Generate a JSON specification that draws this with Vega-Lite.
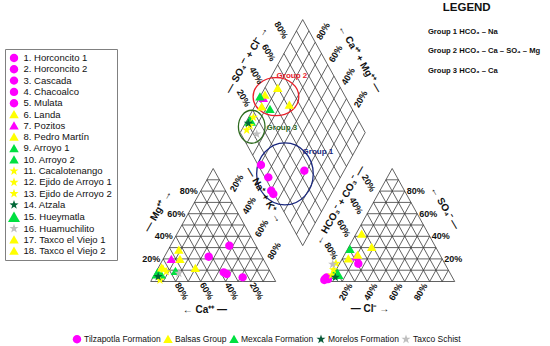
{
"$schema": "https://vega.github.io/schema/vega-lite/v6.json",
"width": 550, "height": 346, "autosize": {"type": "none"}, "padding": 0, "background": "white",
"config": {"view": {"stroke": null}, "font": "Liberation Sans"},
"datasets": {
"grid": [
{"x":0,"y":0,"x2":100,"y2":0},{"x":0,"y":0,"x2":50,"y2":86.6},{"x":100,"y":0,"x2":50,"y2":86.6},
{"x":5,"y":8.66,"x2":95,"y2":8.66},{"x":10,"y":17.32,"x2":90,"y2":17.32},{"x":15,"y":25.98,"x2":85,"y2":25.98},{"x":20,"y":34.64,"x2":80,"y2":34.64},{"x":25,"y":43.3,"x2":75,"y2":43.3},{"x":30,"y":51.96,"x2":70,"y2":51.96},{"x":35,"y":60.62,"x2":65,"y2":60.62},{"x":40,"y":69.28,"x2":60,"y2":69.28},{"x":45,"y":77.94,"x2":55,"y2":77.94},
{"x":10,"y":0,"x2":5,"y2":8.66},{"x":20,"y":0,"x2":10,"y2":17.32},{"x":30,"y":0,"x2":15,"y2":25.98},{"x":40,"y":0,"x2":20,"y2":34.64},{"x":50,"y":0,"x2":25,"y2":43.3},{"x":60,"y":0,"x2":30,"y2":51.96},{"x":70,"y":0,"x2":35,"y2":60.62},{"x":80,"y":0,"x2":40,"y2":69.28},{"x":90,"y":0,"x2":45,"y2":77.94},
{"x":10,"y":0,"x2":55,"y2":77.94},{"x":20,"y":0,"x2":60,"y2":69.28},{"x":30,"y":0,"x2":65,"y2":60.62},{"x":40,"y":0,"x2":70,"y2":51.96},{"x":50,"y":0,"x2":75,"y2":43.3},{"x":60,"y":0,"x2":80,"y2":34.64},{"x":70,"y":0,"x2":85,"y2":25.98},{"x":80,"y":0,"x2":90,"y2":17.32},{"x":90,"y":0,"x2":95,"y2":8.66},
{"x":143.2,"y":0,"x2":243.2,"y2":0},{"x":143.2,"y":0,"x2":193.2,"y2":86.6},{"x":243.2,"y":0,"x2":193.2,"y2":86.6},
{"x":148.2,"y":8.66,"x2":238.2,"y2":8.66},{"x":153.2,"y":17.32,"x2":233.2,"y2":17.32},{"x":158.2,"y":25.98,"x2":228.2,"y2":25.98},{"x":163.2,"y":34.64,"x2":223.2,"y2":34.64},{"x":168.2,"y":43.3,"x2":218.2,"y2":43.3},{"x":173.2,"y":51.96,"x2":213.2,"y2":51.96},{"x":178.2,"y":60.62,"x2":208.2,"y2":60.62},{"x":183.2,"y":69.28,"x2":203.2,"y2":69.28},{"x":188.2,"y":77.94,"x2":198.2,"y2":77.94},
{"x":153.2,"y":0,"x2":148.2,"y2":8.66},{"x":163.2,"y":0,"x2":153.2,"y2":17.32},{"x":173.2,"y":0,"x2":158.2,"y2":25.98},{"x":183.2,"y":0,"x2":163.2,"y2":34.64},{"x":193.2,"y":0,"x2":168.2,"y2":43.3},{"x":203.2,"y":0,"x2":173.2,"y2":51.96},{"x":213.2,"y":0,"x2":178.2,"y2":60.62},{"x":223.2,"y":0,"x2":183.2,"y2":69.28},{"x":233.2,"y":0,"x2":188.2,"y2":77.94},
{"x":153.2,"y":0,"x2":198.2,"y2":77.94},{"x":163.2,"y":0,"x2":203.2,"y2":69.28},{"x":173.2,"y":0,"x2":208.2,"y2":60.62},{"x":183.2,"y":0,"x2":213.2,"y2":51.96},{"x":193.2,"y":0,"x2":218.2,"y2":43.3},{"x":203.2,"y":0,"x2":223.2,"y2":34.64},{"x":213.2,"y":0,"x2":228.2,"y2":25.98},{"x":223.2,"y":0,"x2":233.2,"y2":17.32},{"x":233.2,"y":0,"x2":238.2,"y2":8.66},
{"x":121.6,"y":27.5,"x2":171.6,"y2":114.1},{"x":116.6,"y":36.16,"x2":166.6,"y2":122.76},{"x":111.6,"y":44.82,"x2":161.6,"y2":131.42},{"x":106.6,"y":53.48,"x2":156.6,"y2":140.08},{"x":101.6,"y":62.14,"x2":151.6,"y2":148.74},{"x":96.6,"y":70.8,"x2":146.6,"y2":157.4},{"x":91.6,"y":79.46,"x2":141.6,"y2":166.06},{"x":86.6,"y":88.12,"x2":136.6,"y2":174.72},{"x":81.6,"y":96.78,"x2":131.6,"y2":183.38},{"x":76.6,"y":105.44,"x2":126.6,"y2":192.04},{"x":71.6,"y":114.1,"x2":121.6,"y2":200.7},
{"x":121.6,"y":27.5,"x2":71.6,"y2":114.1},{"x":126.6,"y":36.16,"x2":76.6,"y2":122.76},{"x":131.6,"y":44.82,"x2":81.6,"y2":131.42},{"x":136.6,"y":53.48,"x2":86.6,"y2":140.08},{"x":141.6,"y":62.14,"x2":91.6,"y2":148.74},{"x":146.6,"y":70.8,"x2":96.6,"y2":157.4},{"x":151.6,"y":79.46,"x2":101.6,"y2":166.06},{"x":156.6,"y":88.12,"x2":106.6,"y2":174.72},{"x":161.6,"y":96.78,"x2":111.6,"y2":183.38},{"x":166.6,"y":105.44,"x2":116.6,"y2":192.04},{"x":171.6,"y":114.1,"x2":121.6,"y2":200.7}
],
"ellipses": [
{"g":"Group 1","x":107.4,"y":82.4},{"g":"Group 2","x":100.2,"y":141.6},{"g":"Group 3","x":80.8,"y":118.6}
],
"samples": [
{"s":"15. Hueymatla","f":"Mexcala Formation","p":"C","x":5.5,"y":6.0},
{"s":"15. Hueymatla","f":"Mexcala Formation","p":"A","x":149.5,"y":5.5},
{"s":"15. Hueymatla","f":"Mexcala Formation","p":"D","x":79.5,"y":123.0},
{"s":"1. Horconcito 1","f":"Tilzapotla Formation","p":"C","x":62.9,"y":27.4},
{"s":"2. Horconcito 2","f":"Tilzapotla Formation","p":"C","x":46.4,"y":19.0},
{"s":"3. Cascada","f":"Tilzapotla Formation","p":"C","x":58.4,"y":7.0},
{"s":"4. Chacoalco","f":"Tilzapotla Formation","p":"C","x":60.8,"y":5.7},
{"s":"5. Mulata","f":"Tilzapotla Formation","p":"C","x":73.6,"y":3.2},
{"s":"6. Landa","f":"Balsas Group","p":"C","x":22.5,"y":24.1},
{"s":"7. Pozitos","f":"Tilzapotla Formation","p":"C","x":16.5,"y":17.1},
{"s":"8. Pedro Martín","f":"Balsas Group","p":"C","x":23.4,"y":17.0},
{"s":"9. Arroyo 1","f":"Mexcala Formation","p":"C","x":19.8,"y":7.8},
{"s":"10. Arroyo 2","f":"Mexcala Formation","p":"C","x":8.5,"y":5.0},
{"s":"11. Cacalotenango","f":"Balsas Group","p":"C","x":10.1,"y":9.3},
{"s":"12. Ejido de Arroyo 1","f":"Balsas Group","p":"C","x":7.4,"y":1.1},
{"s":"13. Ejido de Arroyo 2","f":"Balsas Group","p":"C","x":12.5,"y":7.5},
{"s":"14. Atzala","f":"Morelos Formation","p":"C","x":6.0,"y":3.8},
{"s":"16. Huamuchilito","f":"Taxco Schist","p":"C","x":22.5,"y":6.3},
{"s":"17. Taxco el Viejo 1","f":"Balsas Group","p":"C","x":35.7,"y":10.1},
{"s":"18. Taxco el Viejo 2","f":"Balsas Group","p":"C","x":8.8,"y":10.5},
{"s":"1. Horconcito 1","f":"Tilzapotla Formation","p":"A","x":166.1,"y":13.6},
{"s":"2. Horconcito 2","f":"Tilzapotla Formation","p":"A","x":138.9,"y":1.1},
{"s":"3. Cascada","f":"Tilzapotla Formation","p":"A","x":140.8,"y":3.2},
{"s":"4. Chacoalco","f":"Tilzapotla Formation","p":"A","x":139.6,"y":2.2},
{"s":"5. Mulata","f":"Tilzapotla Formation","p":"A","x":141.8,"y":1.8},
{"s":"6. Landa","f":"Balsas Group","p":"A","x":168.8,"y":36.4},
{"s":"7. Pozitos","f":"Tilzapotla Formation","p":"A","x":164.5,"y":19.0},
{"s":"8. Pedro Martín","f":"Balsas Group","p":"A","x":176.8,"y":26.2},
{"s":"9. Arroyo 1","f":"Mexcala Formation","p":"A","x":159.4,"y":24.7},
{"s":"10. Arroyo 2","f":"Mexcala Formation","p":"A","x":147.0,"y":7.0},
{"s":"11. Cacalotenango","f":"Balsas Group","p":"A","x":148.2,"y":13.9},
{"s":"12. Ejido de Arroyo 1","f":"Balsas Group","p":"A","x":144.8,"y":5.0},
{"s":"13. Ejido de Arroyo 2","f":"Balsas Group","p":"A","x":146.2,"y":9.0},
{"s":"14. Atzala","f":"Morelos Formation","p":"A","x":147.7,"y":3.2},
{"s":"16. Huamuchilito","f":"Taxco Schist","p":"A","x":145.6,"y":13.2},
{"s":"17. Taxco el Viejo 1","f":"Balsas Group","p":"A","x":158.1,"y":17.5},
{"s":"18. Taxco el Viejo 2","f":"Balsas Group","p":"A","x":165.6,"y":20.3},
{"s":"1. Horconcito 1","f":"Tilzapotla Formation","p":"D","x":88.2,"y":89.3},
{"s":"2. Horconcito 2","f":"Tilzapotla Formation","p":"D","x":122.9,"y":84.9},
{"s":"3. Cascada","f":"Tilzapotla Formation","p":"D","x":94.1,"y":79.8},
{"s":"4. Chacoalco","f":"Tilzapotla Formation","p":"D","x":96.4,"y":69.6},
{"s":"5. Mulata","f":"Tilzapotla Formation","p":"D","x":98.1,"y":67.0},
{"s":"6. Landa","f":"Balsas Group","p":"D","x":101.6,"y":148.0},
{"s":"7. Pozitos","f":"Tilzapotla Formation","p":"D","x":90.1,"y":140.4},
{"s":"8. Pedro Martín","f":"Balsas Group","p":"D","x":91.4,"y":142.9},
{"s":"9. Arroyo 1","f":"Mexcala Formation","p":"D","x":87.4,"y":141.6},
{"s":"10. Arroyo 2","f":"Mexcala Formation","p":"D","x":95.4,"y":131.9},
{"s":"11. Cacalotenango","f":"Balsas Group","p":"D","x":82.1,"y":125.8},
{"s":"12. Ejido de Arroyo 1","f":"Balsas Group","p":"D","x":76.8,"y":116.1},
{"s":"13. Ejido de Arroyo 2","f":"Balsas Group","p":"D","x":79.5,"y":119.5},
{"s":"14. Atzala","f":"Morelos Formation","p":"D","x":78.1,"y":121.2},
{"s":"16. Huamuchilito","f":"Taxco Schist","p":"D","x":84.8,"y":113.0},
{"s":"17. Taxco el Viejo 1","f":"Balsas Group","p":"D","x":88.8,"y":133.9},
{"s":"18. Taxco el Viejo 2","f":"Balsas Group","p":"D","x":110.9,"y":135.2}
],
"labels": [
{"k":"mg","t":"80%","x":40,"y":69.28},{"k":"mg","t":"60%","x":30,"y":51.96},{"k":"mg","t":"40%","x":20,"y":34.64},{"k":"mg","t":"20%","x":10,"y":17.32},
{"k":"so","t":"80%","x":203.2,"y":69.28},{"k":"so","t":"60%","x":213.2,"y":51.96},{"k":"so","t":"40%","x":223.2,"y":34.64},{"k":"so","t":"20%","x":233.2,"y":17.32},
{"k":"p","t":"80%","x":24.8,"y":-7.3},{"k":"p","t":"60%","x":44.8,"y":-7.3},{"k":"p","t":"40%","x":64.8,"y":-7.3},{"k":"p","t":"20%","x":84.8,"y":-7.3},
{"k":"p","t":"20%","x":174.4,"y":75.4},{"k":"p","t":"40%","x":164.4,"y":58.1},{"k":"p","t":"60%","x":154.4,"y":40.7},{"k":"p","t":"80%","x":144.4,"y":23.4},
{"k":"p","t":"20%","x":74.4,"y":140.6},{"k":"p","t":"40%","x":84.4,"y":157.9},{"k":"p","t":"60%","x":94.4,"y":175.3},{"k":"p","t":"80%","x":104.4,"y":192.6},
{"k":"n","t":"20%","x":156,"y":-8},{"k":"n","t":"40%","x":176,"y":-8},{"k":"n","t":"60%","x":196,"y":-8},{"k":"n","t":"80%","x":216,"y":-8},
{"k":"n","t":"20%","x":68.8,"y":75.4},{"k":"n","t":"40%","x":78.8,"y":58.1},{"k":"n","t":"60%","x":88.8,"y":40.7},{"k":"n","t":"80%","x":98.8,"y":23.4},
{"k":"n","t":"80%","x":138.0,"y":191.8},{"k":"n","t":"60%","x":148.0,"y":174.5},{"k":"n","t":"40%","x":158.0,"y":157.1},{"k":"n","t":"20%","x":168.0,"y":139.8},
{"k":"t0","t":"←   Ca⁺⁺   —","x":43.4,"y":-21.8},{"k":"t0","t":"—   Cl⁻   →","x":175.4,"y":-21.1},
{"k":"tp","t":"←   Ca⁺⁺ + Mg⁺⁺   —","x":167.4,"y":170.5},{"k":"tp","t":"←   SO₄⁻   —","x":235.4,"y":56.3},{"k":"tp","t":"—   Na⁺ + K⁺   →","x":90.6,"y":66.3},
{"k":"tn","t":"—   SO₄⁻⁻ + Cl⁻   →","x":76.8,"y":169.7},{"k":"tn","t":"—   Mg⁺⁺   →","x":5.8,"y":54.0},{"k":"tn","t":"←   HCO₃⁻ + CO₃⁻   —","x":151.4,"y":58.6},
{"k":"lg","t":"LEGEND","x":252.8,"y":209.6},
{"k":"gl","t":"Group 1  HCO₃ – Na","x":221.8,"y":191.2},{"k":"gl","t":"Group 2  HCO₃ – Ca – SO₄ – Mg","x":221.8,"y":176.6},{"k":"gl","t":"Group 3 HCO₃ – Ca","x":221.8,"y":161.3},
{"k":"g1","t":"Group 1","x":133.8,"y":99.2},{"k":"g2","t":"Group 2","x":113.0,"y":157.5},{"k":"g3","t":"Group 3","x":105.0,"y":117.6}
]
},
"encoding": {
"x": {"field": "x", "type": "quantitative", "scale": {"domain": [-120.56, 319.44], "nice": false, "zero": false}, "axis": null},
"y": {"field": "y", "type": "quantitative", "scale": {"domain": [-49.42, 215.71], "nice": false, "zero": false}, "axis": null}
},
"resolve": {"scale": {"color": "independent", "shape": "independent"}},
"layer": [
{"data": {"name": "grid"}, "mark": {"type": "rule", "color": "#3a3a3a", "strokeWidth": 0.8}, "encoding": {"x2": {"field": "x2"}, "y2": {"field": "y2"}}},
{"data": {"name": "ellipses"}, "mark": {"type": "point", "filled": false, "size": 100, "strokeWidth": 1.3, "opacity": 1},
 "encoding": {
  "shape": {"field": "g", "type": "nominal", "legend": null, "scale": {"domain": ["Group 1", "Group 2", "Group 3"], "range": ["M-5.66,0A5.66,6.2 0 1,0 5.66,0A5.66,6.2 0 1,0 -5.66,0Z", "M-4.57,0A4.57,3.8 0 1,0 4.57,0A4.57,3.8 0 1,0 -4.57,0Z", "M-2.66,0A2.66,3.3 0 1,0 2.66,0A2.66,3.3 0 1,0 -2.66,0Z"]}},
  "color": {"field": "g", "type": "nominal", "legend": null, "scale": {"domain": ["Group 1", "Group 2", "Group 3"], "range": ["#1c2a80", "#e8202a", "#2d6a1e"]}}
 }},
{"data": {"name": "samples"}, "mark": {"type": "point", "filled": true, "size": 100, "opacity": 1, "strokeWidth": 0},
 "encoding": {
  "color": {"field": "s", "type": "nominal",
   "scale": {"domain": ["1. Horconcito 1","2. Horconcito 2","3. Cascada","4. Chacoalco","5. Mulata","6. Landa","7. Pozitos","8. Pedro Martín","9. Arroyo 1","10. Arroyo 2","11. Cacalotenango","12. Ejido de Arroyo 1","13. Ejido de Arroyo 2","14. Atzala","15. Hueymatla","16. Huamuchilito","17. Taxco el Viejo 1","18. Taxco el Viejo 2"],
    "range": ["#ff00ff","#ff00ff","#ff00ff","#ff00ff","#ff00ff","#ffff00","#ff00ff","#ffff00","#00e040","#00e040","#ffff00","#ffff00","#ffff00","#006837","#00e040","#bfbfbf","#ffff00","#ffff00"]},
   "legend": {"title": null, "orient": "none", "legendX": 5, "legendY": 49, "direction": "vertical", "strokeColor": "#808080", "fillColor": "white", "padding": 4, "labelFontSize": 9.5, "labelColor": "#111", "labelOffset": 4.5, "rowPadding": 1.3, "symbolSize": 100, "symbolStrokeWidth": 0, "symbolOpacity": 1, "labelLimit": 200}},
  "shape": {"field": "s", "type": "nominal",
   "scale": {"domain": ["1. Horconcito 1","2. Horconcito 2","3. Cascada","4. Chacoalco","5. Mulata","6. Landa","7. Pozitos","8. Pedro Martín","9. Arroyo 1","10. Arroyo 2","11. Cacalotenango","12. Ejido de Arroyo 1","13. Ejido de Arroyo 2","14. Atzala","15. Hueymatla","16. Huamuchilito","17. Taxco el Viejo 1","18. Taxco el Viejo 2"],
    "range": ["M-0.84,0A0.84,0.84 0 1,0 0.84,0A0.84,0.84 0 1,0 -0.84,0Z","M-0.84,0A0.84,0.84 0 1,0 0.84,0A0.84,0.84 0 1,0 -0.84,0Z","M-0.84,0A0.84,0.84 0 1,0 0.84,0A0.84,0.84 0 1,0 -0.84,0Z","M-0.84,0A0.84,0.84 0 1,0 0.84,0A0.84,0.84 0 1,0 -0.84,0Z","M-0.84,0A0.84,0.84 0 1,0 0.84,0A0.84,0.84 0 1,0 -0.84,0Z",
     "M0,-0.9L0.95,0.75L-0.95,0.75Z","M0,-0.9L0.95,0.75L-0.95,0.75Z","M0,-0.9L0.95,0.75L-0.95,0.75Z","M0,-0.9L0.95,0.75L-0.95,0.75Z","M0,-0.9L0.95,0.75L-0.95,0.75Z",
     "M0,-0.96L0.223,-0.307L0.913,-0.297L0.361,0.117L0.564,0.777L0,0.38L-0.564,0.777L-0.361,0.117L-0.913,-0.297L-0.223,-0.307Z","M0,-0.96L0.223,-0.307L0.913,-0.297L0.361,0.117L0.564,0.777L0,0.38L-0.564,0.777L-0.361,0.117L-0.913,-0.297L-0.223,-0.307Z","M0,-0.96L0.223,-0.307L0.913,-0.297L0.361,0.117L0.564,0.777L0,0.38L-0.564,0.777L-0.361,0.117L-0.913,-0.297L-0.223,-0.307Z","M0,-0.96L0.223,-0.307L0.913,-0.297L0.361,0.117L0.564,0.777L0,0.38L-0.564,0.777L-0.361,0.117L-0.913,-0.297L-0.223,-0.307Z",
     "M0,-1.15L1.2,0.95L-1.2,0.95Z",
     "M0,-0.96L0.223,-0.307L0.913,-0.297L0.361,0.117L0.564,0.777L0,0.38L-0.564,0.777L-0.361,0.117L-0.913,-0.297L-0.223,-0.307Z",
     "M0,-0.9L0.95,0.75L-0.95,0.75Z","M0,-0.9L0.95,0.75L-0.95,0.75Z"]},
   "legend": {"title": null, "orient": "none", "legendX": 5, "legendY": 49, "direction": "vertical", "strokeColor": "#808080", "fillColor": "white", "padding": 4, "labelFontSize": 9.5, "labelColor": "#111", "labelOffset": 4.5, "rowPadding": 1.3, "symbolSize": 100, "symbolStrokeWidth": 0, "symbolOpacity": 1, "labelLimit": 200}}
 }},
{"data": {"name": "samples"}, "transform": [{"filter": "datum.p === 'D'"}], "mark": {"type": "point", "filled": true, "size": 100, "opacity": 0, "strokeWidth": 0},
 "encoding": {
  "color": {"field": "f", "type": "nominal",
   "scale": {"domain": ["Tilzapotla Formation", "Balsas Group", "Mexcala Formation", "Morelos Formation", "Taxco Schist"], "range": ["#ff00ff", "#ffff00", "#00e040", "#0b5a3a", "#bfbfbf"]},
   "legend": {"title": null, "orient": "none", "legendX": 72, "legendY": 334, "direction": "horizontal", "columns": 5, "columnPadding": 2, "padding": 0, "labelFontSize": 8.5, "labelColor": "#111", "labelOffset": 2, "symbolSize": 100, "symbolStrokeWidth": 0, "symbolOpacity": 1, "labelLimit": 200}},
  "shape": {"field": "f", "type": "nominal",
   "scale": {"domain": ["Tilzapotla Formation", "Balsas Group", "Mexcala Formation", "Morelos Formation", "Taxco Schist"], "range": ["M-0.84,0A0.84,0.84 0 1,0 0.84,0A0.84,0.84 0 1,0 -0.84,0Z", "M0,-0.9L0.95,0.75L-0.95,0.75Z", "M0,-0.9L0.95,0.75L-0.95,0.75Z", "M0,-0.96L0.223,-0.307L0.913,-0.297L0.361,0.117L0.564,0.777L0,0.38L-0.564,0.777L-0.361,0.117L-0.913,-0.297L-0.223,-0.307Z", "M0,-0.96L0.223,-0.307L0.913,-0.297L0.361,0.117L0.564,0.777L0,0.38L-0.564,0.777L-0.361,0.117L-0.913,-0.297L-0.223,-0.307Z"]},
   "legend": {"title": null, "orient": "none", "legendX": 72, "legendY": 334, "direction": "horizontal", "columns": 5, "columnPadding": 2, "padding": 0, "labelFontSize": 8.5, "labelColor": "#111", "labelOffset": 2, "symbolSize": 100, "symbolStrokeWidth": 0, "symbolOpacity": 1, "labelLimit": 200}}
 }},
{"data": {"name": "labels"}, "transform": [{"filter": "datum.k === 'mg'"}], "mark": {"type": "text", "align": "right", "baseline": "middle", "dx": -3, "fontSize": 9, "fontWeight": "bold", "color": "#111"}, "encoding": {"text": {"field": "t"}}},
{"data": {"name": "labels"}, "transform": [{"filter": "datum.k === 'so'"}], "mark": {"type": "text", "align": "left", "baseline": "middle", "dx": 2, "fontSize": 9, "fontWeight": "bold", "color": "#111"}, "encoding": {"text": {"field": "t"}}},
{"data": {"name": "labels"}, "transform": [{"filter": "datum.k === 'p'"}], "mark": {"type": "text", "align": "center", "baseline": "middle", "angle": 60, "fontSize": 9, "fontWeight": "bold", "color": "#111"}, "encoding": {"text": {"field": "t"}}},
{"data": {"name": "labels"}, "transform": [{"filter": "datum.k === 'n'"}], "mark": {"type": "text", "align": "center", "baseline": "middle", "angle": -60, "fontSize": 9, "fontWeight": "bold", "color": "#111"}, "encoding": {"text": {"field": "t"}}},
{"data": {"name": "labels"}, "transform": [{"filter": "datum.k === 't0'"}], "mark": {"type": "text", "align": "center", "baseline": "middle", "fontSize": 10, "fontWeight": "bold", "color": "#111"}, "encoding": {"text": {"field": "t"}}},
{"data": {"name": "labels"}, "transform": [{"filter": "datum.k === 'tp'"}], "mark": {"type": "text", "align": "center", "baseline": "middle", "angle": 60, "fontSize": 10, "fontWeight": "bold", "color": "#111"}, "encoding": {"text": {"field": "t"}}},
{"data": {"name": "labels"}, "transform": [{"filter": "datum.k === 'tn'"}], "mark": {"type": "text", "align": "center", "baseline": "middle", "angle": -60, "fontSize": 10, "fontWeight": "bold", "color": "#111"}, "encoding": {"text": {"field": "t"}}},
{"data": {"name": "labels"}, "transform": [{"filter": "datum.k === 'lg'"}], "mark": {"type": "text", "align": "center", "baseline": "middle", "fontSize": 11.5, "fontWeight": "bold", "color": "#111"}, "encoding": {"text": {"field": "t"}}},
{"data": {"name": "labels"}, "transform": [{"filter": "datum.k === 'gl'"}], "mark": {"type": "text", "align": "left", "baseline": "middle", "fontSize": 7.6, "fontWeight": "bold", "color": "#111"}, "encoding": {"text": {"field": "t"}}},
{"data": {"name": "labels"}, "transform": [{"filter": "datum.k === 'g1'"}], "mark": {"type": "text", "align": "center", "baseline": "middle", "fontSize": 8, "fontWeight": "bold", "color": "#1c2a80"}, "encoding": {"text": {"field": "t"}}},
{"data": {"name": "labels"}, "transform": [{"filter": "datum.k === 'g2'"}], "mark": {"type": "text", "align": "center", "baseline": "middle", "fontSize": 8, "fontWeight": "bold", "color": "#e8202a"}, "encoding": {"text": {"field": "t"}}},
{"data": {"name": "labels"}, "transform": [{"filter": "datum.k === 'g3'"}], "mark": {"type": "text", "align": "center", "baseline": "middle", "fontSize": 8, "fontWeight": "bold", "color": "#2d6a1e"}, "encoding": {"text": {"field": "t"}}}
]
}
